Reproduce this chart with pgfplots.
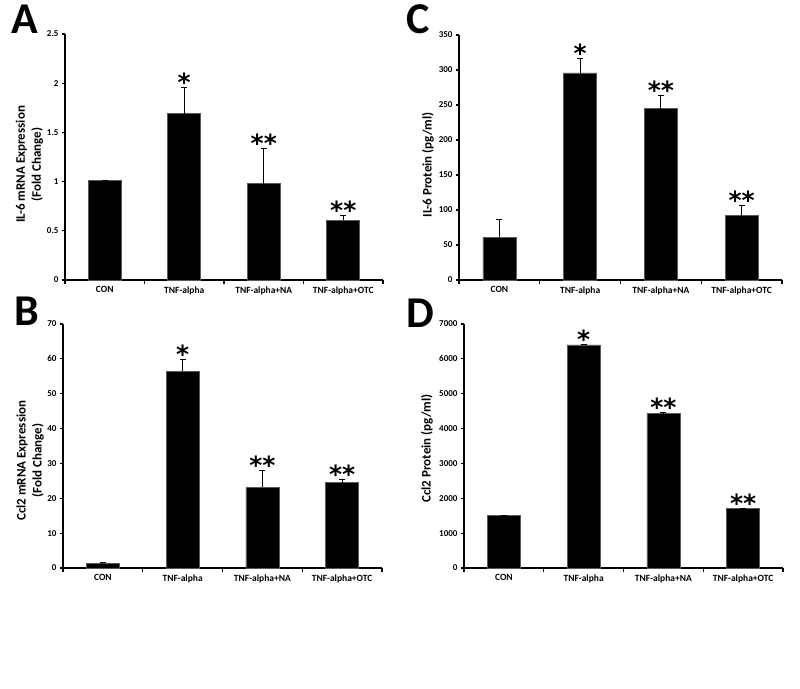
\documentclass[border=0pt]{standalone}
\usepackage{fontspec}
\setmainfont{Carlito}
\newfontfamily\starfont{DejaVu Sans}
\usepackage{pgfplots}
\pgfplotsset{compat=1.18}

\pgfplotsset{
  panel/.style={
    scale only axis,
    axis lines*=left,
    axis line style={line width=1.6pt},
    xmin=0.5, xmax=4.5, ymin=0,
    xtick={1,2,3,4},
    xticklabels={CON,TNF-alpha,TNF-alpha+NA,TNF-alpha+OTC},
    minor xtick={0.5,1.5,2.5,3.5,4.5},
    tick align=outside,
    major tick length=3pt,
    minor tick length=4pt,
    tick style={black, line width=1.2pt},
    major x tick style={draw=none},
    x tick label style={font=\fontsize{9.5}{10}\selectfont\bfseries},
    y tick label style={font=\fontsize{9}{10}\selectfont\bfseries},
    /pgf/number format/assume math mode=true,
    /pgf/number format/1000 sep={},
    scaled y ticks=false,
    ylabel style={font=\fontsize{13}{16}\selectfont\bfseries, align=center, anchor=center},
    clip=false,
  },
  bars/.style={ybar, bar width=33pt, fill=black, draw=black!65, line width=0.6pt,
    error bars/.cd, y dir=plus, y explicit,
    error bar style={line width=0.9pt, black},
    error mark options={rotate=90, mark size=3pt, line width=0.9pt, black}},
  stars/.style={draw=none, nodes near coords, point meta=explicit symbolic,
    every node near coord/.style={font=\fontsize{25}{25}\starfont\bfseries,
      anchor=base, yshift=-4pt, inner sep=0pt}},
}

\begin{document}
\begin{tikzpicture}
\path[use as bounding box] (0,0) rectangle (800pt,-688pt);

% A
\begin{axis}[panel, at={(65pt,-280pt)}, anchor=south west, width=318pt, height=246pt,
  ymax=2.5, ytick={0,0.5,1,1.5,2,2.5},
  ylabel={IL-6 mRNA Expression\\(Fold Change)},
  ylabel style={at={(axis description cs:-0.112,0.47)}}]
\addplot[bars] coordinates {(1,1.01) +- (0,0.005) (2,1.69) +- (0,0.27) (3,0.98) +- (0,0.36) (4,0.605) +- (0,0.055)};
\addplot[stars] coordinates {(2,1.96) [*] (3,1.34) [**] (4,0.66) [**]};
\end{axis}

% C
\begin{axis}[panel, at={(459pt,-280pt)}, anchor=south west, width=323pt, height=245pt,
  ymax=350, ytick={0,50,...,350},
  ylabel={IL-6 Protein (pg/ml)},
  ylabel style={at={(axis description cs:-0.096,0.47)}}]
\addplot[bars] coordinates {(1,61) +- (0,25) (2,296) +- (0,21) (3,245) +- (0,19) (4,92) +- (0,14)};
\addplot[stars] coordinates {(2,317) [*] (3,264) [**] (4,106) [**]};
\end{axis}

% B
\begin{axis}[panel, at={(63pt,-568pt)}, anchor=south west, width=319pt, height=244pt,
  ymax=70, ytick={0,10,...,70},
  ylabel={Ccl2 mRNA Expression\\(Fold Change)},
  ylabel style={at={(axis description cs:-0.103,0.44)}}]
\addplot[bars] coordinates {(1,1.4) +- (0,0.15) (2,56.4) +- (0,3.5) (3,23.1) +- (0,4.8) (4,24.5) +- (0,1.0)};
\addplot[stars] coordinates {(2,59.9) [*] (3,27.9) [**] (4,25.5) [**]};
\end{axis}

% D
\begin{axis}[panel, at={(464pt,-568pt)}, anchor=south west, width=319pt, height=244pt,
  ymax=7000, ytick={0,1000,...,7000},
  ylabel={Ccl2 Protein (pg/ml)},
  ylabel style={at={(axis description cs:-0.116,0.49)}}]
\addplot[bars] coordinates {(1,1500) +- (0,20) (2,6400) +- (0,25) (3,4430) +- (0,20) (4,1700) +- (0,20)};
\addplot[stars] coordinates {(2,6425) [*] (3,4450) [**] (4,1720) [**]};
\end{axis}

\node[anchor=base west, inner sep=0pt, font=\fontsize{44}{44}\selectfont\bfseries] at (11pt,-33pt) {A};
\node[anchor=base west, inner sep=0pt, font=\fontsize{44}{44}\selectfont\bfseries] at (406pt,-33pt) {C};
\node[anchor=base west, inner sep=0pt, font=\fontsize{44}{44}\selectfont\bfseries] at (14pt,-325pt) {B};
\node[anchor=base west, inner sep=0pt, font=\fontsize{44}{44}\selectfont\bfseries] at (406pt,-327pt) {D};
\end{tikzpicture}
\end{document}
